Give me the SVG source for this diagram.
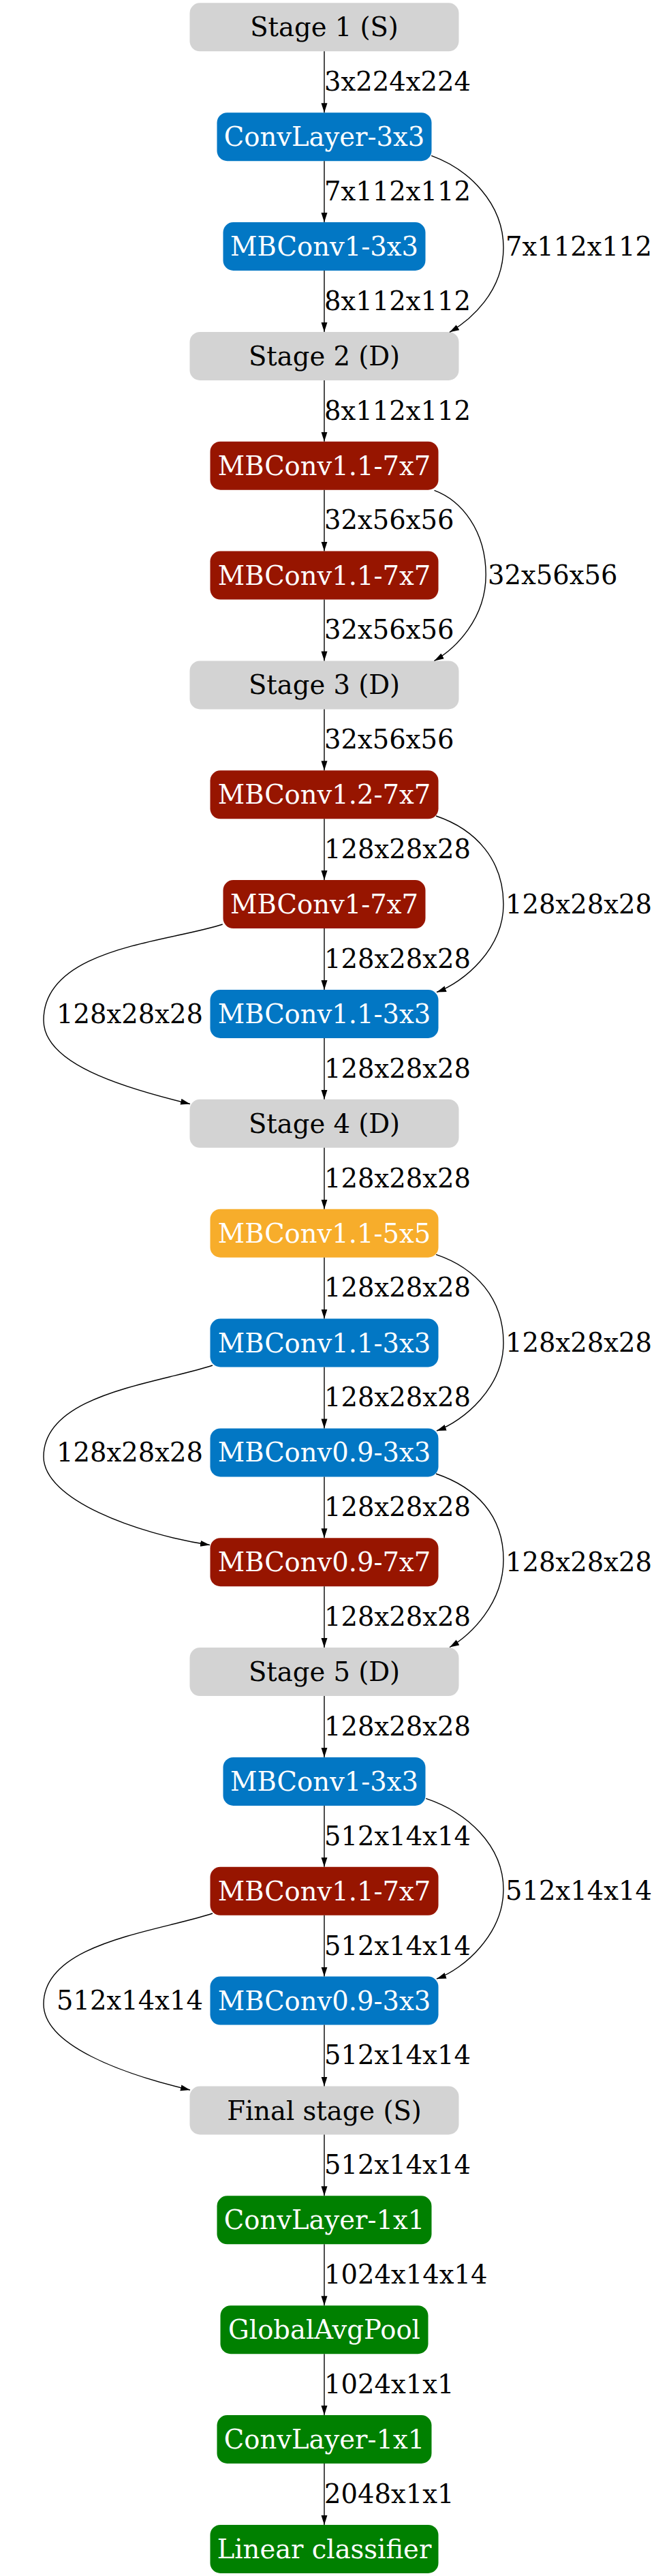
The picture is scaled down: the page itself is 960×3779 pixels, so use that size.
<svg xmlns="http://www.w3.org/2000/svg" width="960" height="3779" viewBox="0 0 960 3779">
<defs>
<marker id="arr" markerUnits="userSpaceOnUse" markerWidth="16" markerHeight="12" refX="14" refY="4.5" orient="auto">
<path d="M0,0 L14,4.5 L0,9 z" fill="#000"/>
</marker>
<style>
.n rect{stroke:none}
.g rect{fill:#d3d3d3}
.b rect{fill:#0277c4}
.r rect{fill:#971500}
.o rect{fill:#f7ad2b}
.gr rect{fill:#008000}
.n text{font-family:"DejaVu Serif",serif;font-size:38.5px;text-anchor:middle;fill:#fff}
.g text{fill:#000}
.e path{fill:none;stroke:#000;stroke-width:1.4;marker-end:url(#arr)}
.e text{font-family:"DejaVu Serif",serif;font-size:38.5px;fill:#000}
</style>
</defs>
<rect width="960" height="3779" fill="#fff"/>
<g id="nodes">
<g id="n0" class="n g"><rect x="278.5" y="4.3" width="395" height="71" rx="15"/><text x="476" y="53.3">Stage 1 (S)</text></g>
<g id="n1" class="n b"><rect x="318.5" y="165.2" width="315" height="71" rx="15"/><text x="476" y="214.2">ConvLayer-3x3</text></g>
<g id="n2" class="n b"><rect x="327.5" y="326" width="297" height="71" rx="15"/><text x="476" y="375">MBConv1-3x3</text></g>
<g id="n3" class="n g"><rect x="278.5" y="486.9" width="395" height="71" rx="15"/><text x="476" y="535.9">Stage 2 (D)</text></g>
<g id="n4" class="n r"><rect x="308.5" y="647.7" width="335" height="71" rx="15"/><text x="476" y="696.7">MBConv1.1-7x7</text></g>
<g id="n5" class="n r"><rect x="308.5" y="808.6" width="335" height="71" rx="15"/><text x="476" y="857.6">MBConv1.1-7x7</text></g>
<g id="n6" class="n g"><rect x="278.5" y="969.4" width="395" height="71" rx="15"/><text x="476" y="1018.4">Stage 3 (D)</text></g>
<g id="n7" class="n r"><rect x="308.5" y="1130.3" width="335" height="71" rx="15"/><text x="476" y="1179.3">MBConv1.2-7x7</text></g>
<g id="n8" class="n r"><rect x="327.5" y="1291.1" width="297" height="71" rx="15"/><text x="476" y="1340.1">MBConv1-7x7</text></g>
<g id="n9" class="n b"><rect x="308.5" y="1452" width="335" height="71" rx="15"/><text x="476" y="1501">MBConv1.1-3x3</text></g>
<g id="n10" class="n g"><rect x="278.5" y="1612.8" width="395" height="71" rx="15"/><text x="476" y="1661.8">Stage 4 (D)</text></g>
<g id="n11" class="n o"><rect x="308.5" y="1773.7" width="335" height="71" rx="15"/><text x="476" y="1822.7">MBConv1.1-5x5</text></g>
<g id="n12" class="n b"><rect x="308.5" y="1934.5" width="335" height="71" rx="15"/><text x="476" y="1983.5">MBConv1.1-3x3</text></g>
<g id="n13" class="n b"><rect x="308.5" y="2095.4" width="335" height="71" rx="15"/><text x="476" y="2144.4">MBConv0.9-3x3</text></g>
<g id="n14" class="n r"><rect x="308.5" y="2256.2" width="335" height="71" rx="15"/><text x="476" y="2305.2">MBConv0.9-7x7</text></g>
<g id="n15" class="n g"><rect x="278.5" y="2417.1" width="395" height="71" rx="15"/><text x="476" y="2466.1">Stage 5 (D)</text></g>
<g id="n16" class="n b"><rect x="327.5" y="2577.9" width="297" height="71" rx="15"/><text x="476" y="2626.9">MBConv1-3x3</text></g>
<g id="n17" class="n r"><rect x="308.5" y="2738.8" width="335" height="71" rx="15"/><text x="476" y="2787.8">MBConv1.1-7x7</text></g>
<g id="n18" class="n b"><rect x="308.5" y="2899.6" width="335" height="71" rx="15"/><text x="476" y="2948.6">MBConv0.9-3x3</text></g>
<g id="n19" class="n g"><rect x="278.5" y="3060.5" width="395" height="71" rx="15"/><text x="476" y="3109.5">Final stage (S)</text></g>
<g id="n20" class="n gr"><rect x="318.5" y="3221.3" width="315" height="71" rx="15"/><text x="476" y="3270.3">ConvLayer-1x1</text></g>
<g id="n21" class="n gr"><rect x="323.5" y="3382.2" width="305" height="71" rx="15"/><text x="476" y="3431.2">GlobalAvgPool</text></g>
<g id="n22" class="n gr"><rect x="318.5" y="3543" width="315" height="71" rx="15"/><text x="476" y="3592">ConvLayer-1x1</text></g>
<g id="n23" class="n gr"><rect x="308.5" y="3703.9" width="335" height="71" rx="15"/><text x="476" y="3752.9">Linear classifier</text></g>
</g>
<g id="edges" class="e">
<path d="M476,75.3 L476,165.2"/><text x="476" y="133">3x224x224</text>
<path d="M476,236.2 L476,326"/><text x="476" y="293.9">7x112x112</text>
<path d="M476,397 L476,486.9"/><text x="476" y="454.7">8x112x112</text>
<path d="M476,557.9 L476,647.7"/><text x="476" y="615.6">8x112x112</text>
<path d="M476,718.7 L476,808.6"/><text x="476" y="776.4">32x56x56</text>
<path d="M476,879.6 L476,969.4"/><text x="476" y="937.3">32x56x56</text>
<path d="M476,1040.4 L476,1130.3"/><text x="476" y="1098.1">32x56x56</text>
<path d="M476,1201.3 L476,1291.1"/><text x="476" y="1259">128x28x28</text>
<path d="M476,1362.1 L476,1452"/><text x="476" y="1419.8">128x28x28</text>
<path d="M476,1523 L476,1612.8"/><text x="476" y="1580.7">128x28x28</text>
<path d="M476,1683.8 L476,1773.7"/><text x="476" y="1741.5">128x28x28</text>
<path d="M476,1844.7 L476,1934.5"/><text x="476" y="1902.4">128x28x28</text>
<path d="M476,2005.5 L476,2095.4"/><text x="476" y="2063.2">128x28x28</text>
<path d="M476,2166.4 L476,2256.2"/><text x="476" y="2224.1">128x28x28</text>
<path d="M476,2327.2 L476,2417.1"/><text x="476" y="2384.9">128x28x28</text>
<path d="M476,2488.1 L476,2577.9"/><text x="476" y="2545.8">128x28x28</text>
<path d="M476,2648.9 L476,2738.8"/><text x="476" y="2706.6">512x14x14</text>
<path d="M476,2809.8 L476,2899.6"/><text x="476" y="2867.5">512x14x14</text>
<path d="M476,2970.6 L476,3060.5"/><text x="476" y="3028.3">512x14x14</text>
<path d="M476,3131.5 L476,3221.3"/><text x="476" y="3189.2">512x14x14</text>
<path d="M476,3292.3 L476,3382.2"/><text x="476" y="3350">1024x14x14</text>
<path d="M476,3453.2 L476,3543"/><text x="476" y="3510.9">1024x1x1</text>
<path d="M476,3614 L476,3703.9"/><text x="476" y="3671.7">2048x1x1</text>
<path d="M633.2,228.3 C688.2,248.3 739,298.3 739,363.3 C739,428.3 690,470 660,487.3"/><text x="742" y="374.5">7x112x112</text>
<path d="M637.5,719.3 C677.5,734.3 713.2,778.3 713.2,843.3 C713.2,908.3 668,952 637.5,969.4"/><text x="716" y="857">32x56x56</text>
<path d="M640,1197 C698.5,1216.7 739,1261.7 739,1326.7 C739,1391.7 681,1441 641,1455.5"/><text x="742" y="1339.6">128x28x28</text>
<path d="M640,1840.3 C698.5,1860 739,1905 739,1970 C739,2035 681,2084.5 641,2099"/><text x="742" y="1983">128x28x28</text>
<path d="M640,2162 C698.5,2181.7 739,2223 739,2288 C739,2353 690,2399 660,2416.5"/><text x="742" y="2304.7">128x28x28</text>
<path d="M625.2,2638.3 C685,2658.3 739,2707 739,2772 C739,2837 681,2888.5 641,2903"/><text x="742" y="2787.3">512x14x14</text>
<path d="M326.7,1356 C248,1382 64,1390 64,1496.7 C64,1560 177.5,1595 279,1619.5"/><text x="83" y="1500.5">128x28x28</text>
<path d="M312,2003 C230,2030 64,2045 64,2137 C64,2200 200,2250 308,2266.5"/><text x="83" y="2143.9">128x28x28</text>
<path d="M312,2807 C230,2834 64,2850 64,2940 C64,3000 177.5,3042 279,3066"/><text x="83" y="2948.1">512x14x14</text>
</g>
</svg>
